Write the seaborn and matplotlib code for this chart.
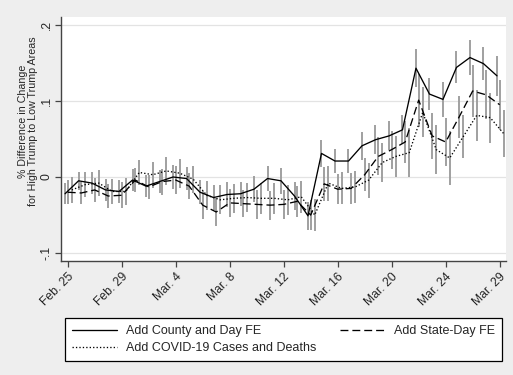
import numpy as np
import pandas as pd
import matplotlib
matplotlib.use("Agg")
import matplotlib.pyplot as plt
import seaborn as sns
from matplotlib.lines import Line2D

# ---------------- data ----------------
tick_labels = ["Feb. 25", "Feb. 29", "Mar. 4", "Mar. 8", "Mar. 12",
               "Mar. 16", "Mar. 20", "Mar. 24", "Mar. 29"]
y_ticks = [-0.1, 0.0, 0.1, 0.2]
y_tick_labels = ["-.1", "0", ".1", ".2"]
days = list(range(33))

county_day = [-0.022, -0.005, -0.008, -0.017, -0.019, -0.004, -0.012, -0.006,
              0.000, -0.002, -0.020, -0.027, -0.023, -0.022, -0.016, -0.002,
              -0.005, -0.025, -0.051, 0.031, 0.021, 0.021, 0.041, 0.049,
              0.054, 0.062, 0.143, 0.109, 0.102, 0.144, 0.157, 0.149, 0.133]
state_day = [-0.020, -0.021, -0.017, -0.025, -0.024, -0.004, -0.013, -0.006,
             -0.004, -0.012, -0.037, -0.046, -0.034, -0.035, -0.036, -0.037,
             -0.036, -0.032, -0.050, -0.009, -0.016, -0.015, 0.003, 0.027,
             0.036, 0.046, 0.101, 0.054, 0.046, 0.079, 0.113, 0.108, 0.095]
covid = [-0.017, -0.010, -0.008, -0.019, -0.019, 0.006, 0.003, 0.008,
         0.005, -0.003, -0.024, -0.030, -0.028, -0.027, -0.028, -0.028,
         -0.030, -0.026, -0.050, -0.008, -0.015, -0.013, -0.004, 0.019,
         0.027, 0.032, 0.085, 0.036, 0.025, 0.053, 0.081, 0.078, 0.057]

# CI half widths
county_ci = [0.014, 0.012, 0.014, 0.014, 0.015, 0.014, 0.014, 0.015,
             0.016, 0.015, 0.016, 0.016, 0.016, 0.016, 0.017, 0.017,
             0.017, 0.018, 0.018, 0.018, 0.016, 0.016, 0.018, 0.019,
             0.019, 0.019, 0.025, 0.021, 0.023, 0.021, 0.023, 0.022, 0.026]
state_ci = [0.016, 0.015, 0.016, 0.016, 0.017, 0.016, 0.016, 0.017,
            0.018, 0.017, 0.018, 0.018, 0.018, 0.018, 0.019, 0.019,
            0.019, 0.020, 0.020, 0.022, 0.020, 0.020, 0.022, 0.025,
            0.025, 0.027, 0.035, 0.030, 0.032, 0.028, 0.034, 0.032, 0.033]
covid_ci = [0.017, 0.016, 0.017, 0.017, 0.018, 0.017, 0.017, 0.018,
            0.019, 0.018, 0.019, 0.019, 0.019, 0.019, 0.020, 0.020,
            0.020, 0.021, 0.021, 0.023, 0.021, 0.021, 0.023, 0.026,
            0.027, 0.032, 0.033, 0.032, 0.035, 0.028, 0.034, 0.033, 0.031]

series_names = ["Add County and Day FE", "Add State-Day FE",
                "Add COVID-19 Cases and Deaths"]

# ---------------- style ----------------
sns.set_theme(style="white")
plt.rcParams["font.family"] = ["Liberation Sans", "DejaVu Sans"]

W, H = 513, 375
fig = plt.figure(figsize=(W / 100, H / 100), dpi=100, facecolor="#eeeeee")

ax_l, ax_r, ax_t, ax_b = 61, 506, 17, 261
ax = fig.add_axes([ax_l / W, 1 - ax_b / H, (ax_r - ax_l) / W, (ax_b - ax_t) / H])
ax.set_facecolor("white")

offsets = [-0.2, 0.0, 0.3]
vals = [county_day, state_day, covid]
cis = [county_ci, state_ci, covid_ci]
styles = ["-", (0, (6, 3)), (0, (1, 1.6))]

rows = []
for name, off, v, c in zip(series_names, offsets, vals, cis):
    for d, yv, cv in zip(days, v, c):
        rows.append({"series": name, "x": d + off, "y": yv,
                     "lo": yv - cv, "hi": yv + cv})
df = pd.DataFrame(rows)

# CI spikes
for name in series_names:
    sub = df[df.series == name]
    ax.vlines(sub["x"], sub["lo"], sub["hi"], colors="#a0a0a0",
              linewidth=1.4, zorder=2)

# lines
for name, ls in zip(series_names, styles):
    sub = df[df.series == name]
    sns.lineplot(data=sub, x="x", y="y", ax=ax, color="black",
                 linewidth=0.95, linestyle=ls, legend=False, zorder=3,
                 estimator=None, sort=False)

ax.set_xlim(-0.5, 32.47)
ax.set_ylim(-0.1104, 0.2103)
ax.set_xticks(list(range(0, 33, 4)))
ax.set_xticklabels(tick_labels, rotation=45, ha="right",
                   rotation_mode="anchor", fontsize=8.7)
ax.set_yticks(y_ticks)
ax.set_yticklabels(y_tick_labels, rotation=90, va="center", fontsize=8.7)
ax.tick_params(axis="both", direction="out", length=4, width=0.9,
               color="#444444", pad=2, bottom=True, left=True)
ax.tick_params(axis="x", pad=3)
ax.grid(axis="y", color="#e3e3e3", linewidth=0.9, zorder=0)
ax.set_axisbelow(True)
ax.set_xlabel("")
ax.set_ylabel("% Difference in Change\nfor High Trump to Low Trump Areas",
              fontsize=7.7, linespacing=0.95)
ax.yaxis.set_label_coords(-0.052, 0.574)
for s in ["top", "right"]:
    ax.spines[s].set_visible(False)
for s in ["left", "bottom"]:
    ax.spines[s].set_color("#444444")
    ax.spines[s].set_linewidth(1.0)

handles = [Line2D([], [], color="black", lw=0.95, linestyle=styles[0]),
           Line2D([], [], color="black", lw=0.95, linestyle=styles[2]),
           Line2D([], [], color="black", lw=0.95, linestyle=styles[1])]
labels = [series_names[0], series_names[2], series_names[1]]
leg = fig.legend(handles, labels, ncol=2, mode="expand",
                 bbox_to_anchor=(65 / W, 1 - 361 / H, 437 / W, 43 / H),
                 loc="lower left", fontsize=9, handlelength=3.6,
                 handletextpad=0.7, borderaxespad=0.0, borderpad=0.55,
                 labelspacing=0.42, columnspacing=2.0, frameon=True,
                 fancybox=False, edgecolor="black", facecolor="white",
                 framealpha=1.0)
leg.get_frame().set_linewidth(0.9)

fig.savefig("out.png", dpi=100, facecolor=fig.get_facecolor())
